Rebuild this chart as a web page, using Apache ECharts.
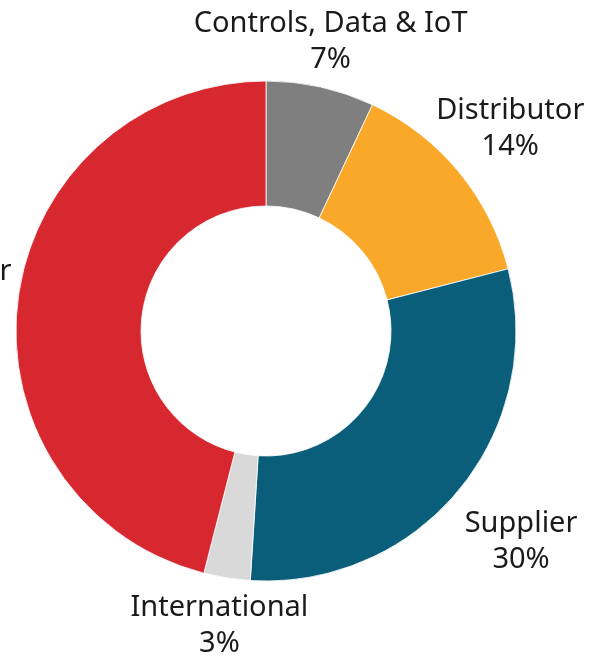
<!DOCTYPE html>
<html>
<head>
<meta charset="utf-8">
<script src="https://cdn.jsdelivr.net/npm/echarts@6/dist/echarts.min.js"></script>
<style>
html,body{margin:0;padding:0;background:#fff;}
#chart{width:604px;height:656px;}
</style>
</head>
<body>
<div id="chart"></div>
<script>
var categories = ['Controls, Data & IoT', 'Distributor', 'Supplier', 'International', 'Contractor'];
var values = [7, 14, 30, 3, 46];
var colors = ['#7F7F7F', '#F9A82A', '#0A5E7A', '#D9D9D9', '#D7282F'];

var CX = 266, CY = 331, R_IN = 125, R_OUT = 250;
var labelDist = [296, 317, 331, 298, 330];

var total = values.reduce(function(a, b){ return a + b; }, 0);
var midAngles = [];
(function(){
  var acc = 0;
  for (var i = 0; i < values.length; i++) {
    midAngles.push((acc + values[i] / 2) / total * 2 * Math.PI);
    acc += values[i];
  }
})();

var chart = echarts.init(document.getElementById('chart'));
chart.setOption({
  animation: false,
  series: [{
    type: 'pie',
    center: [CX, CY],
    radius: [R_IN, R_OUT],
    startAngle: 90,
    clockwise: true,
    avoidLabelOverlap: false,
    itemStyle: { borderColor: '#fff', borderWidth: 0.8 },
    label: {
      show: true,
      position: 'outside',
      formatter: function(p){ return p.name + '\n' + p.value + '%'; },
      fontFamily: 'Noto Sans',
      fontSize: 29,
      lineHeight: 36,
      color: '#1a1a1a',
      align: 'center'
    },
    labelLine: { show: false },
    labelLayout: function(params){
      var i = params.dataIndex;
      var a = midAngles[i];
      return {
        x: CX + labelDist[i] * Math.sin(a),
        y: CY - labelDist[i] * Math.cos(a),
        align: 'center',
        verticalAlign: 'middle'
      };
    },
    data: categories.map(function(c, i){
      return { name: c, value: values[i], itemStyle: { color: colors[i] } };
    })
  }]
});
</script>
</body>
</html>
